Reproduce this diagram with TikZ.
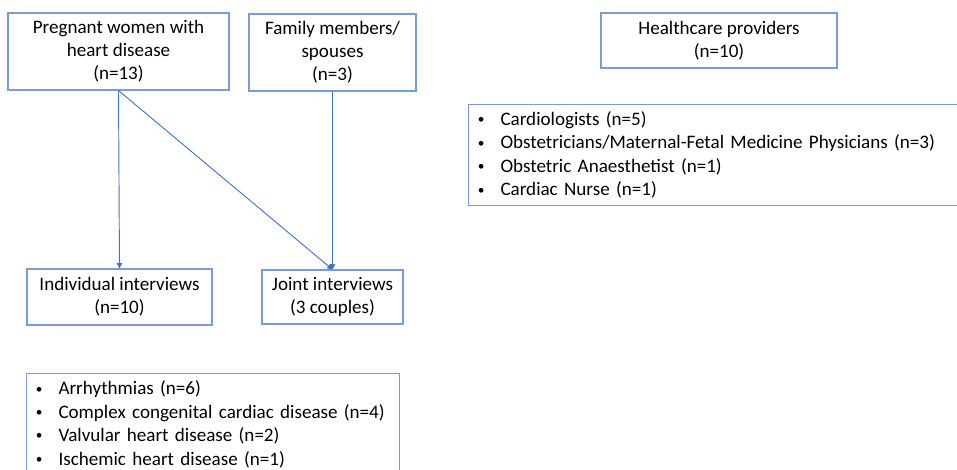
\documentclass[tikz,border=0pt]{standalone}
\usepackage{fontspec}
\setmainfont{Carlito}
\usepackage{xcolor}
\usetikzlibrary{positioning,arrows.meta}
\definecolor{lineblue}{HTML}{4472C4}
\definecolor{boxblue}{HTML}{7B9BD6}
\newcommand{\bitem}[1]{\makebox[18pt][l]{\hspace{1pt}\raisebox{1.2pt}{\fontsize{10pt}{10pt}\selectfont\textbullet}}#1}

\begin{document}
\begin{tikzpicture}[
    x=0.75pt, y=-0.75pt,
    box/.style={draw=boxblue, line width=0.8pt, align=center, inner sep=2pt, font=\fontsize{14.3pt}{17.25pt}\selectfont},
    listbox/.style={draw=boxblue, line width=0.8pt, anchor=north west, align=left, inner xsep=6pt, font=\fontsize{14.3pt}{17.6pt}\selectfont},
    arrow/.style={-{Triangle[length=4pt,width=4pt]}, draw=lineblue, line width=0.7pt}
]
\useasboundingbox (0,0) rectangle (957,470);

\node[box, minimum width=165.75pt, minimum height=57.75pt] (preg) at (118.5,51.5) {Pregnant women with\\heart disease\\(n=13)};
\node[box, minimum width=125.25pt, minimum height=57.75pt] (fam) at (332.5,52.5) {Family members/\\spouses\\(n=3)};
\node[box, minimum width=177pt, minimum height=41.25pt] (hcp) at (719,40.5) {Healthcare providers\\(n=10)};

\node[box, minimum width=138.75pt, minimum height=42pt] (indiv) at (119.5,297) {Individual interviews\\(n=10)};
\node[box, minimum width=105.75pt, minimum height=40.5pt] (joint) at (332.5,297) {Joint interviews\\(3 couples)};

\node[listbox, text width=359.25pt, minimum height=75.75pt] (hcplist) at (468,104) {%
    \bitem{Cardiologists (n=5)}\\
    \bitem{Obstetricians/Maternal-Fetal Medicine Physicians (n=3)}\\
    \bitem{Obstetric Anaesthetist (n=1)}\\
    \bitem{Cardiac Nurse (n=1)}};

\node[listbox, text width=267.75pt, minimum height=76pt] (condlist) at (26,373) {%
    \bitem{Arrhythmias (n=6)}\\
    \bitem{Complex congenital cardiac disease (n=4)}\\
    \bitem{Valvular heart disease (n=2)}\\
    \bitem{Ischemic heart disease (n=1)}};

\draw[arrow] (preg.south) -- (indiv.north);
\draw[arrow] (preg.south) -- (joint.north);
\draw[arrow] (fam.south) -- (joint.north);
\end{tikzpicture}
\end{document}
